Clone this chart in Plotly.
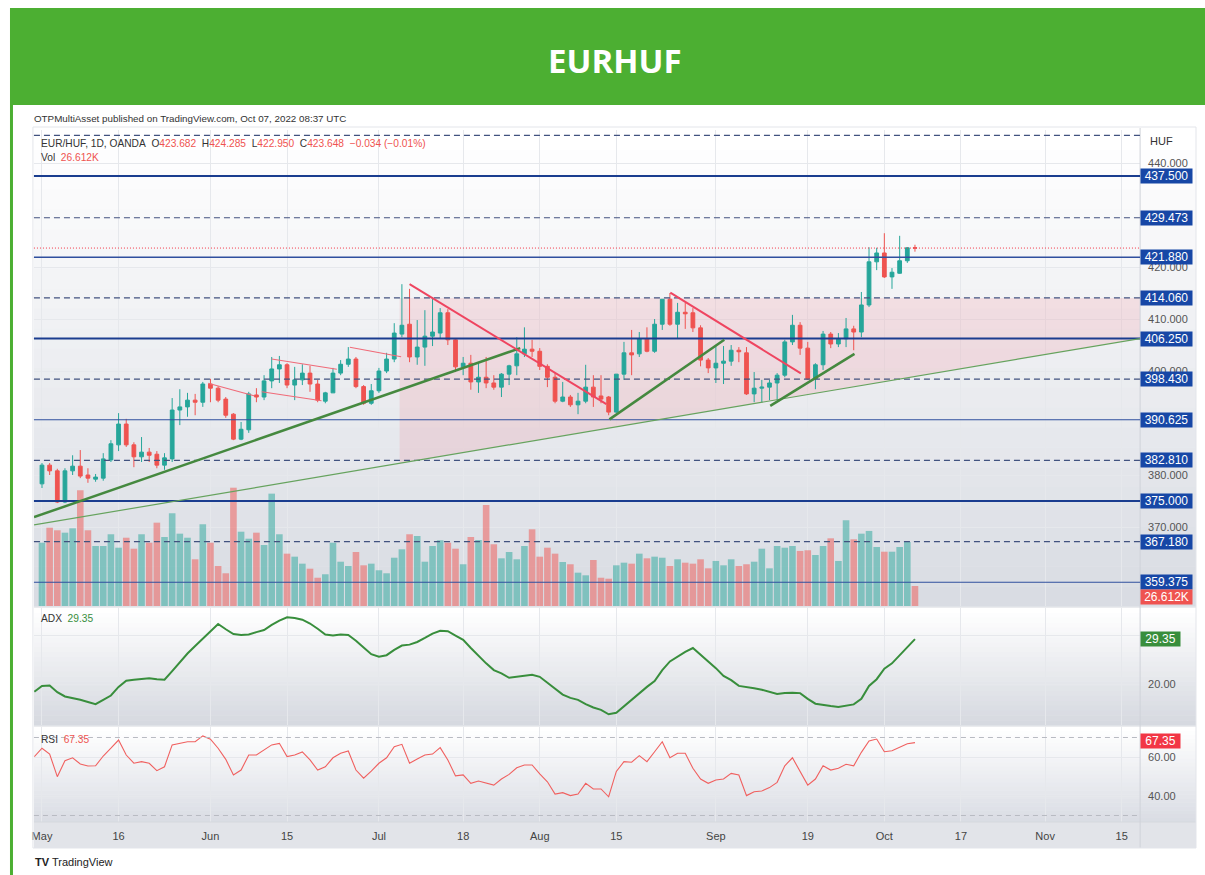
import plotly.graph_objects as go

# ---- data (trading-day index 0 = May 2, 2022) ----
opens = [378.3, 381.9, 380.8, 374.8, 380.8, 381.7, 380.0, 379.2, 379.4, 382.9,
         385.8, 389.8, 385.8, 383.5, 384.4, 384.0, 381.9, 383.1, 392.5, 393.1,
         394.4, 394.0, 397.5, 396.7, 394.6, 391.7, 386.9, 388.7, 395.4, 395.0,
         398.1, 400.4, 401.2, 397.3, 398.3, 399.6, 397.5, 394.2, 395.8, 399.6,
         401.3, 402.3, 397.0, 393.8, 396.2, 400.0, 402.3, 407.1, 409.0, 402.7,
         404.6, 406.7, 407.3, 411.2, 406.0, 400.8, 401.5, 397.9, 398.8, 397.7,
         396.9, 399.4, 401.0, 403.3, 404.2, 403.8, 400.9, 398.8, 394.2, 395.0,
         393.5, 394.2, 396.9, 395.2, 395.0, 392.1, 399.4, 403.5, 403.3, 406.2,
         403.8, 409.0, 413.8, 409.0, 411.3, 411.2, 408.3, 402.1, 400.6, 401.5,
         401.9, 404.0, 403.5, 395.6, 396.7, 396.9, 397.7, 399.2, 405.6, 408.8,
         404.4, 398.5, 401.2, 407.1, 405.2, 406.2, 408.1, 407.5, 412.7, 421.0,
         422.7, 418.1, 418.8, 421.2, 423.682]
highs = [382.3, 382.3, 381.2, 381.3, 383.8, 384.8, 381.3, 380.2, 384.2, 386.7,
         391.9, 390.8, 386.3, 387.3, 385.2, 384.6, 384.2, 394.8, 396.5, 395.8,
         395.6, 397.9, 398.5, 397.1, 395.0, 391.9, 390.2, 396.0, 396.7, 399.2,
         402.7, 402.9, 401.5, 400.8, 401.3, 401.0, 398.3, 396.0, 400.6, 402.1,
         404.6, 402.7, 397.3, 397.5, 400.6, 403.5, 409.2, 416.7, 415.8, 409.8,
         411.7, 414.2, 412.1, 411.9, 406.3, 402.7, 403.1, 401.5, 402.7, 399.2,
         399.6, 401.2, 406.5, 408.4, 406.0, 404.4, 401.3, 399.6, 397.9, 395.4,
         395.8, 401.2, 399.2, 399.2, 395.2, 399.4, 405.6, 407.9, 407.5, 408.4,
         410.0, 413.8, 415.0, 413.1, 413.1, 412.1, 408.8, 402.5, 404.8, 404.8,
         405.0, 404.6, 404.6, 399.8, 398.3, 398.3, 399.6, 406.0, 410.8, 409.4,
         405.6, 401.5, 407.7, 407.5, 407.3, 410.2, 408.7, 415.2, 423.8, 423.7,
         426.5, 419.8, 426.0, 423.8, 424.285]
lows = [377.5, 380.0, 374.6, 374.6, 380.0, 379.4, 378.5, 378.7, 378.9, 382.5,
        384.6, 385.4, 381.5, 382.5, 382.5, 381.3, 381.0, 382.5, 389.6, 391.2,
        391.5, 393.1, 394.0, 394.0, 391.0, 386.7, 386.7, 388.1, 394.0, 394.4,
        396.7, 397.7, 396.7, 394.4, 397.3, 396.0, 394.0, 393.8, 395.8, 399.2,
        400.8, 396.7, 393.5, 393.5, 395.8, 399.6, 401.7, 406.5, 401.7, 401.2,
        401.0, 404.8, 406.3, 405.0, 399.8, 399.2, 396.4, 395.8, 396.7, 396.4,
        395.0, 397.3, 399.2, 402.7, 402.7, 400.2, 396.9, 393.8, 394.0, 393.1,
        391.7, 393.8, 393.1, 393.8, 391.5, 391.9, 398.3, 399.2, 402.7, 403.6,
        403.5, 407.9, 408.7, 406.3, 408.1, 407.5, 400.9, 399.6, 397.7, 397.5,
        401.0, 401.7, 395.4, 394.0, 394.0, 394.4, 394.4, 398.8, 405.0, 403.1,
        398.3, 396.5, 400.2, 404.4, 404.6, 404.6, 404.0, 406.5, 412.3, 419.4,
        417.9, 415.8, 418.7, 420.8, 422.950]
closes = [381.9, 380.8, 374.8, 380.8, 381.7, 379.8, 379.4, 379.6, 383.1, 386.0,
          389.8, 385.8, 383.5, 384.4, 383.8, 381.9, 383.3, 392.5, 393.1, 394.4,
          394.0, 397.5, 396.7, 394.4, 391.5, 386.9, 388.8, 395.6, 395.0, 398.1,
          400.4, 401.2, 397.3, 398.3, 399.6, 397.5, 394.4, 395.8, 399.6, 401.3,
          402.3, 397.0, 393.8, 396.2, 400.0, 402.3, 407.3, 408.8, 402.7, 404.6,
          406.7, 407.5, 411.2, 406.0, 400.8, 401.5, 397.9, 398.8, 397.7, 396.9,
          399.4, 401.0, 403.3, 404.2, 403.8, 400.9, 398.8, 394.2, 395.0, 393.5,
          394.2, 396.9, 395.0, 394.6, 392.1, 399.4, 403.5, 403.1, 406.2, 403.8,
          409.0, 413.8, 409.0, 411.3, 411.0, 408.3, 402.1, 400.6, 401.5, 401.9,
          404.0, 403.7, 395.6, 396.7, 396.9, 397.7, 399.2, 405.6, 408.8, 404.4,
          398.5, 401.2, 407.1, 405.2, 406.2, 408.1, 407.5, 412.7, 421.0, 422.7,
          418.1, 419.0, 421.2, 423.7, 423.648]
volume_k = [84.2, 104.1, 100.7, 97.5, 103.3, 153.9, 100.7, 79.8, 79.8, 95.4,
            77.5, 90.8, 76.2, 95.4, 84.2, 110.8, 91.8, 123.3, 96.2, 90.8,
            62.1, 108.7, 84.2, 53.2, 43.5, 157.3, 98.8, 89.5, 97.5, 81.1,
            149.4, 95.4, 69.6, 65.6, 56.3, 49.6, 37.6, 42.2, 84.2, 58.9,
            53.2, 71.8, 54.1, 56.3, 47.5, 43.5, 64.2, 75.4, 95.4, 93.1,
            58.9, 79.8, 87.4, 84.2, 76.2, 55.5, 91.8, 87.8, 134.3, 82.1,
            63.4, 71.8, 62.1, 79.8, 102.0, 65.6, 77.5, 69.6, 58.5, 55.5,
            44.3, 40.8, 61.2, 37.6, 36.3, 54.1, 57.6, 56.3, 69.6, 63.4,
            65.6, 64.2, 53.2, 62.1, 57.6, 56.3, 62.1, 50.1, 59.9, 54.1,
            62.1, 53.2, 55.5, 58.9, 76.2, 50.1, 79.8, 77.5, 79.8, 73.2,
            74.1, 67.8, 79.8, 90.0, 59.9, 114.0, 88.7, 96.2, 99.8, 78.5,
            72.2, 72.2, 78.5, 85.1, 26.612]
# ADX and RSI start one bar earlier (index -1)
adx = [18.4, 19.6, 19.7, 18.3, 17.4, 17.1, 16.7, 16.25, 15.8, 16.7, 17.6,
       19.4, 20.7, 20.9, 21.1, 21.2, 21.0, 20.9, 22.7, 24.6, 26.35,
       27.9, 29.5, 31.0, 32.5, 31.4, 30.4, 30.2, 30.3, 30.8, 31.25,
       32.3, 33.2, 33.9, 33.75, 33.4, 32.6, 31.5, 30.3, 30.1, 30.3,
       30.2, 29.0, 27.6, 26.2, 25.7, 26.0, 27.1, 28.0, 28.2, 28.75,
       29.6, 30.5, 31.1, 31.0, 30.1, 29.2, 27.5, 25.8, 24.3, 22.9,
       22.2, 21.3, 21.5, 21.8, 21.9, 21.5, 20.3, 19.0, 17.8, 17.1,
       16.7, 15.8, 15.1, 14.6, 13.7, 14.0, 15.4, 16.8, 18.1, 19.4,
       20.6, 22.9, 24.7, 25.7, 26.7, 27.5, 26.1, 24.9, 23.3, 21.7,
       20.8, 19.6, 19.4, 19.1, 18.8, 18.4, 17.9, 18.1, 18.2, 18.1,
       16.9, 15.9, 15.6, 15.4, 15.2, 15.4, 15.75, 16.9, 19.6, 21.0,
       23.2, 24.3, 26.0, 27.7, 29.35]
rsi = [60.2, 64.5, 61.5, 49.9, 58.1, 59.6, 56.4, 55.4, 55.5, 60.5, 64.5,
       68.7, 61.0, 56.8, 57.6, 56.8, 53.0, 55.0, 66.2, 67.0, 67.8,
       67.8, 70.8, 69.1, 64.5, 58.8, 50.8, 53.3, 61.0, 61.0, 63.6,
       66.2, 67.0, 60.2, 61.0, 62.6, 58.5, 53.3, 55.0, 59.6, 61.9,
       63.1, 53.3, 49.1, 52.8, 56.8, 59.6, 65.3, 66.5, 56.8, 59.0,
       61.0, 61.5, 64.8, 58.5, 50.3, 50.8, 46.5, 47.7, 46.8, 45.6,
       48.7, 51.1, 54.5, 55.9, 55.9, 51.3, 47.3, 41.0, 41.7, 40.2,
       41.0, 46.5, 43.6, 43.6, 39.6, 52.6, 57.6, 57.3, 60.7, 57.6,
       62.7, 67.8, 59.6, 61.9, 61.9, 54.2, 48.7, 46.5, 48.2, 48.7,
       51.6, 50.8, 40.2, 42.2, 42.6, 44.3, 47.0, 55.5, 59.6, 52.5,
       45.6, 48.7, 55.5, 53.3, 54.2, 56.3, 55.5, 62.4, 68.2, 69.2,
       62.7, 63.2, 64.8, 66.8, 67.35]

tick_days = [0, 10, 22, 32, 44, 55, 65, 75, 88, 100, 110, 120, 131, 141]
tick_text = ["May", "16", "Jun", "15", "Jul", "18", "Aug", "15", "Sep", "19",
             "Oct", "17", "Nov", "15"]
# price-scale ticks that are not covered by a level label
price_ticks = [440, 420, 410, 400, 380, 370]

solid_levels = [437.5, 421.88, 406.25, 390.625, 375.0, 359.375]
solid_widths = [2, 1.3, 2.2, 1.2, 2, 1.2]
dashed_levels = [445.313, 429.473, 414.06, 398.43, 382.81, 367.18]
last_price = 423.648

# drawings: ((day, price), (day, price))
green_thick = [((-1.04, 371.9), (62.45, 404.4)),
               ((74.1, 390.7), (89.1, 406.0)),
               ((95.1, 393.3), (106.1, 403.3))]
green_thin = ((-1.04, 370.4), (143.4, 406.25))
red_thick = [((48.0, 416.7), (73.7, 393.65)),
             ((82.05, 415.06), (99.1, 399.56))]
red_thin = [((21.7, 397.63), (27.8, 395.2)),
            ((30.0, 402.3), (38.5, 400.33)),
            ((28.7, 396.02), (36.5, 394.29)),
            ((40.2, 404.56), (46.9, 402.75))]
zone_start_day = 46.7
zone_top = 414.06

# ---- page geometry (pixels) ----
W, H = 1205, 875
PL, PR = 32, 1140          # plot area left/right
SCALE_R = 1196             # right edge of price scale
MAIN = (130, 606)
ADXP = (608, 725)
RSIP = (727, 822)
AXIS_B = 848
X_RANGE = [-1.05, 143.4]


def fx(px):
    return px / W


def fy(py):
    return 1 - py / H


UP, DOWN = "#26a69a", "#ef5350"
NAVY = "#1a3d8f"
DASH = "#41527f"
FONT = "Liberation Sans, Arial, sans-serif"

days = list(range(len(opens)))
days_ind = list(range(-1, len(opens)))
vol_colors = ["rgba(38,166,154,0.5)" if c >= o else "rgba(239,83,80,0.5)"
              for o, c in zip(opens, closes)]

fig = go.Figure()
fig.add_trace(go.Bar(x=days, y=volume_k, marker_color=vol_colors,
                     marker_line_width=0, width=0.86, xaxis="x", yaxis="y2"))
fig.add_trace(go.Candlestick(
    x=days, open=opens, high=highs, low=lows, close=closes,
    increasing=dict(line=dict(color=UP, width=1), fillcolor=UP),
    decreasing=dict(line=dict(color=DOWN, width=1), fillcolor=DOWN),
    whiskerwidth=0, xaxis="x", yaxis="y"))
fig.add_trace(go.Scatter(x=days_ind, y=adx, mode="lines",
                         line=dict(color="#388e3c", width=2),
                         xaxis="x2", yaxis="y3"))
fig.add_trace(go.Scatter(x=days_ind, y=rsi, mode="lines",
                         line=dict(color="#f0605f", width=1.1),
                         xaxis="x3", yaxis="y4"))

shapes = []
# gradient backgrounds
def gradient(y0, y1, c0, c1, n=24):
    for k in range(n):
        t = k / (n - 1)
        col = tuple(round(a + (b - a) * t) for a, b in zip(c0, c1))
        ya = y0 + (y1 - y0) * k / n
        yb = y0 + (y1 - y0) * (k + 1) / n
        shapes.append(dict(type="rect", xref="paper", yref="paper",
                           x0=fx(PL), x1=fx(SCALE_R), y0=fy(ya), y1=fy(yb + 0.5),
                           fillcolor="rgb(%d,%d,%d)" % col, line_width=0,
                           layer="below"))


gradient(MAIN[0], MAIN[1], (255, 255, 255), (217, 220, 227))
gradient(ADXP[0], ADXP[1], (255, 255, 255), (214, 217, 224))
gradient(RSIP[0], RSIP[1], (255, 255, 255), (218, 221, 228))
shapes.append(dict(type="rect", xref="paper", yref="paper", x0=fx(PL), x1=fx(SCALE_R),
                   y0=fy(RSIP[1]), y1=fy(AXIS_B), fillcolor="#e2e4e9", line_width=0,
                   layer="below"))
# frame lines
for yy in (MAIN[1] + 1, ADXP[1] + 1, RSIP[1]):
    shapes.append(dict(type="line", xref="paper", yref="paper", x0=fx(PL), x1=fx(SCALE_R),
                       y0=fy(yy), y1=fy(yy), line=dict(color="#d5d8de", width=1)))
shapes.append(dict(type="line", xref="paper", yref="paper", x0=fx(PR), x1=fx(PR),
                   y0=fy(MAIN[0] - 2), y1=fy(AXIS_B), line=dict(color="#cfd2d9", width=1)))
shapes.append(dict(type="rect", xref="paper", yref="paper", x0=fx(PL - 1), x1=fx(SCALE_R),
                   y0=fy(127), y1=fy(AXIS_B), line=dict(color="#e3e5ea", width=1)))

# pink zone under the thin green line
(gx0, gy0), (gx1, gy1) = green_thin
slope = (gy1 - gy0) / (gx1 - gx0)
zone_low = gy0 + (zone_start_day - gx0) * slope
shapes.append(dict(type="path", xref="x", yref="y", layer="between",
                   path="M %f,%f L %f,%f L %f,%f L %f,%f Z" % (
                       zone_start_day, zone_top, gx1, zone_top, gx1, gy1,
                       zone_start_day, zone_low),
                   fillcolor="rgba(242,54,69,0.11)", line_width=0))

# horizontal levels
for lv, lw in zip(solid_levels, solid_widths):
    shapes.append(dict(type="line", xref="x domain", yref="y", x0=0, x1=1, y0=lv, y1=lv,
                       line=dict(color=NAVY if lw > 1.5 else "#2f4f9e", width=lw)))
for lv in dashed_levels:
    shapes.append(dict(type="line", xref="x domain", yref="y", x0=0, x1=1, y0=lv, y1=lv,
                       line=dict(color=DASH, width=1.2, dash="6px,4px")))
shapes.append(dict(type="line", xref="x domain", yref="y", x0=0, x1=1,
                   y0=last_price, y1=last_price,
                   line=dict(color="#f23645", width=1, dash="1px,2px")))

# trend lines
shapes.append(dict(type="line", xref="x", yref="y", x0=gx0, y0=gy0, x1=gx1, y1=gy1,
                   line=dict(color="#66a35e", width=1.2)))
for (a, b) in green_thick:
    shapes.append(dict(type="line", xref="x", yref="y", x0=a[0], y0=a[1], x1=b[0], y1=b[1],
                       line=dict(color="#45893f", width=2.5)))
for (a, b) in red_thick:
    shapes.append(dict(type="line", xref="x", yref="y", x0=a[0], y0=a[1], x1=b[0], y1=b[1],
                       line=dict(color="#ef4560", width=2)))
for (a, b) in red_thin:
    shapes.append(dict(type="line", xref="x", yref="y", x0=a[0], y0=a[1], x1=b[0], y1=b[1],
                       line=dict(color="#f06a78", width=1.1)))

# RSI bands
for lv in (70, 30):
    shapes.append(dict(type="line", xref="x3 domain", yref="y4", x0=0, x1=1, y0=lv, y1=lv,
                       line=dict(color="#b8bbc2", width=1, dash="5px,4px")))

# banner and green frame
shapes.append(dict(type="rect", xref="paper", yref="paper", x0=fx(8), x1=1,
                   y0=fy(105), y1=fy(8), fillcolor="#4caf32", line_width=0, layer="below"))
shapes.append(dict(type="rect", xref="paper", yref="paper", x0=fx(8), x1=fx(11),
                   y0=0, y1=fy(105), fillcolor="#4caf32", line_width=0, layer="below"))

annotations = []


def label_box(y, yref, text, bg, width=51):
    annotations.append(dict(x=fx(PR), xref="paper", y=y, yref=yref, xanchor="left",
                            yanchor="middle", text=text, showarrow=False, bgcolor=bg,
                            font=dict(color="white", size=12, family=FONT),
                            width=width, height=14, align="center", borderpad=0))


for lv in sorted(solid_levels + dashed_levels[1:], reverse=True):
    label_box(lv, "y", "%.3f" % lv, "#1747a6")
label_box(fy(597), "paper", "%.3fK" % volume_k[-1], "#ef5350")
label_box(adx[-1], "y3", "%.2f" % adx[-1], "#388e3c", width=39)
label_box(rsi[-1] + 0.6, "y4", "%.2f" % rsi[-1], "#f23645", width=39)


def text_at(x, y, text, font, xanchor="left"):
    annotations.append(dict(x=fx(x), y=fy(y), xref="paper", yref="paper", xanchor=xanchor,
                            yanchor="middle", text=text, showarrow=False, font=font))


sp = "\u00a0"
red = '<span style="color:#ef5350">%s</span>'
small = dict(size=10.2, color="#333", family=FONT)
header = ("EUR/HUF, 1D, OANDA" + sp * 2 + "O" + red % "423.682" + sp * 2 + "H" + red % "424.285"
          + sp * 2 + "L" + red % "422.950" + sp * 2 + "C" + red % "423.648" + sp * 2
          + red % "\u22120.034 (\u22120.01%)")
text_at(1148, 141, "HUF", dict(size=11, color="#333", family=FONT))
text_at(37, 143, header, small)
text_at(37, 157, "Vol" + sp * 2 + red % "26.612K", small)
text_at(37, 618, "ADX" + sp * 2 + '<span style="color:#388e3c">%.2f</span>' % adx[-1], small)
text_at(37, 739, "RSI" + sp * 2 + red % ("%.2f" % rsi[-1]), small)
text_at(30, 118, "OTPMultiAsset published on TradingView.com, Oct 07, 2022 08:37 UTC",
        dict(size=9.8, color="#333", family=FONT))
text_at(31, 862, "<b>TV</b> TradingView", dict(size=11, color="#222", family=FONT))
text_at(614, 60, "<b>EURHUF</b>", dict(size=33, color="white", family="Open Sans"),
        xanchor="center")

xcommon = dict(range=X_RANGE, domain=[fx(PL), fx(PR)], tickvals=tick_days, ticktext=tick_text,
               showgrid=True, gridcolor="#e6e8ec", gridwidth=1, zeroline=False,
               rangeslider=dict(visible=False), fixedrange=True, showline=False)
ycommon = dict(side="right", showgrid=True, gridcolor="#e6e8ec", zeroline=False,
               tickfont=dict(size=11, color="#555", family=FONT), ticks="",
               ticklabelstandoff=7, fixedrange=True)

fig.update_layout(
    width=W, height=H, margin=dict(l=0, r=0, t=0, b=0),
    paper_bgcolor="white", plot_bgcolor="rgba(0,0,0,0)", showlegend=False,
    shapes=shapes, annotations=annotations,
    xaxis=dict(xcommon, anchor="y", showticklabels=False),
    xaxis2=dict(xcommon, anchor="y3", showticklabels=False),
    xaxis3=dict(xcommon, anchor="y4", showticklabels=True, ticks="", ticklabelstandoff=6,
                tickfont=dict(size=11, color="#444", family=FONT)),
    yaxis=dict(ycommon, domain=[fy(MAIN[1]), fy(MAIN[0])], range=[354.81, 446.35],
               tickvals=price_ticks, tickformat=".3f", anchor="x"),
    yaxis2=dict(overlaying="y", range=[0, 633], showgrid=False, showticklabels=False,
                zeroline=False, fixedrange=True),
    yaxis3=dict(ycommon, domain=[fy(ADXP[1]), fy(ADXP[0])], range=[11.46, 35.83],
                tickvals=[10, 20, 30], ticktext=["", "20.00", ""], anchor="x2"),
    yaxis4=dict(ycommon, domain=[fy(RSIP[1]), fy(RSIP[0])], range=[26.67, 75.38],
                tickvals=[40, 60], tickformat=".2f", anchor="x3"),
)

# the page body has a default 8px margin; drop it so the figure fills the window
fig.write_html("out.html", config={"displayModeBar": False},
               post_script="document.body.style.margin='0';document.body.style.overflow='hidden';")
